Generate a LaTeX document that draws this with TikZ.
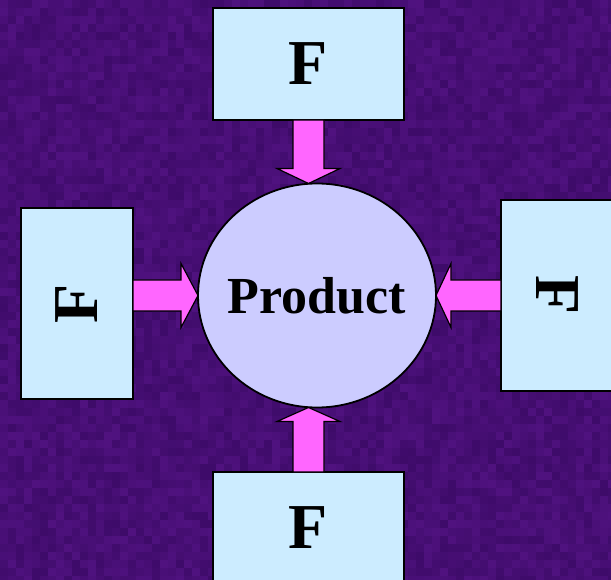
\documentclass[tikz,border=0pt]{standalone}
\usepackage{fontspec}
\setmainfont{Liberation Serif}
\usetikzlibrary{shapes.geometric,calc}
\definecolor{bgdark}{RGB}{50,8,90}
\definecolor{bglight}{RGB}{90,24,140}
\definecolor{bgbase}{RGB}{72,14,118}
\definecolor{boxfill}{RGB}{204,236,255}
\definecolor{circfill}{RGB}{204,204,255}
\definecolor{arrfill}{RGB}{255,102,255}
\tikzset{
  fbox/.style={draw=black, line width=1.8pt, fill=boxfill, inner sep=0pt, outer sep=0pt,
    font=\fontsize{64}{64}\selectfont\bfseries},
  prodnode/.style={ellipse, draw=black, line width=1.8pt, fill=circfill, inner sep=0pt, outer sep=0pt,
    minimum width=238pt, minimum height=224pt, font=\fontsize{52}{52}\selectfont\bfseries},
  fatarrow/.style={draw=black, line width=1.2pt, fill=arrfill, line join=miter}
}
\begin{document}
\begin{tikzpicture}[x=1pt,y=-1pt]
\useasboundingbox (0,0) rectangle (611,580);
\fill[bgbase] (0,0) rectangle (611,580);
\pgfmathsetseed{7}
\foreach \i in {0,...,76}{
  \foreach \j in {0,...,72}{
    \pgfmathsetmacro{\r}{int(random(0,100))}
    \fill[bgdark!\r!bglight, opacity=0.45] (\i*8,\j*8) rectangle ++(8,8);
  }
}
% nodes
\node[prodnode] (prod) at (317,295.5) {\makebox[0pt]{Product}};
\node[fbox, minimum width=191pt, minimum height=112pt] (tf) at (308.5,64) {F};
\node[fbox, minimum width=191pt, minimum height=112pt] (bf) at (308.5,528) {F};
\node[fbox, minimum width=112pt, minimum height=191pt] (lf) at (77,303.5) {\rotatebox{90}{F}};
\node[fbox, minimum width=112pt, minimum height=191pt] (rf) at (557,295.5) {\rotatebox{-90}{F}};
% top arrow
\coordinate (tA) at (tf.south);
\coordinate (tT) at (tf.south |- prod.north);
\draw[fatarrow] ($(tA)+(-15.5,0)$) -- ($(tT)+(-15.5,-15)$) -- ($(tT)+(-31.5,-15)$) -- (tT)
  -- ($(tT)+(31.5,-15)$) -- ($(tT)+(15.5,-15)$) -- ($(tA)+(15.5,0)$) -- cycle;
% bottom arrow
\coordinate (bA) at (bf.north);
\coordinate (bT) at (bf.north |- prod.south);
\draw[fatarrow] ($(bA)+(-15.5,0)$) -- ($(bT)+(-15.5,14)$) -- ($(bT)+(-31.5,14)$) -- (bT)
  -- ($(bT)+(31.5,14)$) -- ($(bT)+(15.5,14)$) -- ($(bA)+(15.5,0)$) -- cycle;
% left arrow
\coordinate (lA) at (lf.east |- prod.west);
\coordinate (lT) at (prod.west);
\draw[fatarrow] ($(lA)+(0,-15.5)$) -- ($(lT)+(-17,-15.5)$) -- ($(lT)+(-17,-32)$) -- (lT)
  -- ($(lT)+(-17,32)$) -- ($(lT)+(-17,15.5)$) -- ($(lA)+(0,15.5)$) -- cycle;
% right arrow
\coordinate (rA) at (rf.west |- prod.east);
\coordinate (rT) at (prod.east);
\draw[fatarrow] ($(rA)+(0,-15.5)$) -- ($(rT)+(15,-15.5)$) -- ($(rT)+(15,-32)$) -- (rT)
  -- ($(rT)+(15,32)$) -- ($(rT)+(15,15.5)$) -- ($(rA)+(0,15.5)$) -- cycle;
\end{tikzpicture}
\end{document}
